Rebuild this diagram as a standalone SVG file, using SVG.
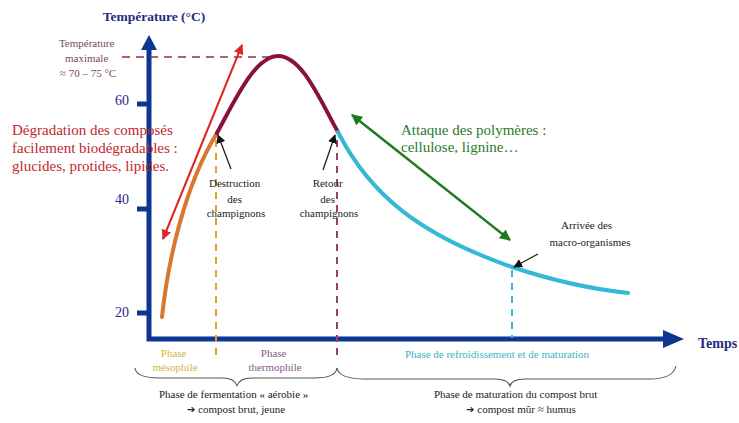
<svg xmlns="http://www.w3.org/2000/svg" width="739" height="423" viewBox="0 0 739 423" font-family="'Liberation Serif', 'DejaVu Serif', serif">
<style>
  text { font-family: 'Liberation Serif', 'DejaVu Serif', serif; }
  .ax { stroke: #0d3592; stroke-width: 5; fill: none; }
  .axh { fill: #0d3592; }
  .tick { fill: #1a2a8c; font-size: 14px; text-anchor: end; }
  .small { font-size: 11px; fill: #222; text-anchor: middle; }
  .red { fill: #c0282d; font-size: 15px; }
  .green { fill: #2b7a2b; font-size: 15px; }
  .curve { fill: none; stroke-width: 4; stroke-linecap: round; }
  .brace { fill: none; stroke: #555; stroke-width: 1.1; }
  .blk { stroke: #222; stroke-width: 1.3; fill: none; }
  .sym { font-family: 'DejaVu Sans', sans-serif; font-size: 10px; }
</style>
<defs>
  <marker id="hRed" viewBox="0 0 10 10" refX="9" refY="5" markerWidth="10" markerHeight="10" markerUnits="userSpaceOnUse" orient="auto-start-reverse">
    <path d="M0,0 L10,5 L0,10 Z" fill="#e02424"/>
  </marker>
  <marker id="hGreen" viewBox="0 0 10 10" refX="9" refY="5" markerWidth="11" markerHeight="11" markerUnits="userSpaceOnUse" orient="auto-start-reverse">
    <path d="M0,0 L10,5 L0,10 Z" fill="#1f7a1f"/>
  </marker>
  <marker id="hBlk" viewBox="0 0 10 10" refX="9" refY="5" markerWidth="9" markerHeight="9" markerUnits="userSpaceOnUse" orient="auto">
    <path d="M0,0 L10,5 L0,10 Z" fill="#111"/>
  </marker>
</defs>
<rect width="739" height="423" fill="#fff"/>

<g id="axes">
  <path class="ax" d="M149,48 L149,339 L664,339"/>
  <polygon class="axh" points="149,35 141,50 157,50"/>
  <polygon class="axh" points="684,339 663,330 663,348"/>
  <path class="ax" stroke-width="4" d="M137,104 H149 M137,209 H149 M137,313 H149"/>
  <text x="129" y="105" class="tick">60</text>
  <text x="129" y="204" class="tick">40</text>
  <text x="129" y="317" class="tick">20</text>
  <text x="154" y="21" font-size="13.5" font-weight="bold" fill="#1f2a80" text-anchor="middle">Température (°C)</text>
  <text x="698" y="348" font-size="14" font-weight="bold" fill="#1f2a80">Temps</text>
</g>

<g id="max-label">
  <line x1="122" y1="57" x2="276" y2="57" stroke="#8a3050" stroke-width="1.6" stroke-dasharray="8,6"/>
  <text class="small" style="fill:#7a4a55">
    <tspan x="88" y="47">Température</tspan>
    <tspan x="88" y="62">maximale</tspan>
    <tspan x="88" y="77">≈ 70 – 75 °C</tspan>
  </text>
</g>

<g id="curve">
  <path class="curve" stroke="#d9772f" d="M162,317 C168,260 185,185 217,133"/>
  <path class="curve" stroke="#8a1040" d="M217,133 C235,100 255,56 278,56 C302,56 320,100 338,132"/>
  <path class="curve" stroke="#33b8d6" d="M338,132 C370,195 420,235 512,267 C560,283 600,290 628,293"/>
</g>

<g id="connectors">
  <line x1="216" y1="140" x2="216" y2="356" stroke="#e0a030" stroke-width="2" stroke-dasharray="7,6"/>
  <line x1="337" y1="140" x2="337" y2="356" stroke="#9a4070" stroke-width="2" stroke-dasharray="7,6"/>
  <line x1="512" y1="270" x2="512" y2="338" stroke="#33b8d6" stroke-width="2" stroke-dasharray="7,6"/>
  <line x1="163" y1="239" x2="242" y2="45" stroke="#e02424" stroke-width="2" marker-start="url(#hRed)" marker-end="url(#hRed)"/>
  <line x1="352" y1="115" x2="510" y2="240" stroke="#1f7a1f" stroke-width="2.5" marker-start="url(#hGreen)" marker-end="url(#hGreen)"/>
  <line class="blk" x1="231" y1="169" x2="218" y2="135" marker-end="url(#hBlk)"/>
  <line class="blk" x1="323" y1="170" x2="335" y2="135" marker-end="url(#hBlk)"/>
  <line class="blk" x1="538" y1="254" x2="514" y2="267" marker-end="url(#hBlk)"/>
</g>

<g id="label-degradation">
  <text class="red">
    <tspan x="12" y="135">Dégradation des composés</tspan>
    <tspan x="12" y="153">facilement biodégradables :</tspan>
    <tspan x="12" y="171">glucides, protides, lipides.</tspan>
  </text>
</g>

<g id="label-attaque">
  <text class="green">
    <tspan x="401" y="135">Attaque des polymères :</tspan>
    <tspan x="401" y="152">cellulose, lignine…</tspan>
  </text>
</g>

<g id="label-destruction">
  <text class="small">
    <tspan x="236" y="187">Destruction</tspan>
    <tspan x="236" y="203">des</tspan>
    <tspan x="236" y="217">champignons</tspan>
  </text>
</g>

<g id="label-retour">
  <text class="small">
    <tspan x="329" y="187">Retour</tspan>
    <tspan x="329" y="203">des</tspan>
    <tspan x="329" y="217">champignons</tspan>
  </text>
</g>

<g id="label-macro">
  <text class="small">
    <tspan x="588" y="229">Arrivée des</tspan>
    <tspan x="590" y="246">macro-organismes</tspan>
  </text>
</g>

<g id="phase-mesophile">
  <text class="small" style="fill:#d6b444">
    <tspan x="175" y="357">Phase</tspan>
    <tspan x="175" y="371">mésophile</tspan>
  </text>
</g>
<g id="phase-thermophile">
  <text class="small" style="fill:#8a5a8a">
    <tspan x="275" y="357">Phase</tspan>
    <tspan x="275" y="371">thermophile</tspan>
  </text>
</g>
<g id="phase-refroidissement">
  <text class="small" style="fill:#3ab4c8" x="497" y="358">Phase de refroidissement et de maturation</text>
</g>

<g id="brace-fermentation">
  <path class="brace" d="M135,368 Q136,378 160,378 L222,378 Q235,378 237,386 Q239,378 252,378 L314,378 Q336,378 337,368"/>
  <text class="small">
    <tspan x="235" y="398">Phase de fermentation « aérobie »</tspan>
    <tspan x="236" y="413"><tspan class="sym">➔</tspan> compost brut, jeune</tspan>
  </text>
</g>

<g id="brace-maturation">
  <path class="brace" d="M337,368 Q339,379 365,379 L495,379 Q508,379 510,386 Q512,379 525,379 L650,379 Q673,379 676,366"/>
  <text class="small">
    <tspan x="517" y="398">Phase de maturation du compost brut</tspan>
    <tspan x="521" y="413"><tspan class="sym">➔</tspan> compost mûr ≈ humus</tspan>
  </text>
</g>
</svg>
